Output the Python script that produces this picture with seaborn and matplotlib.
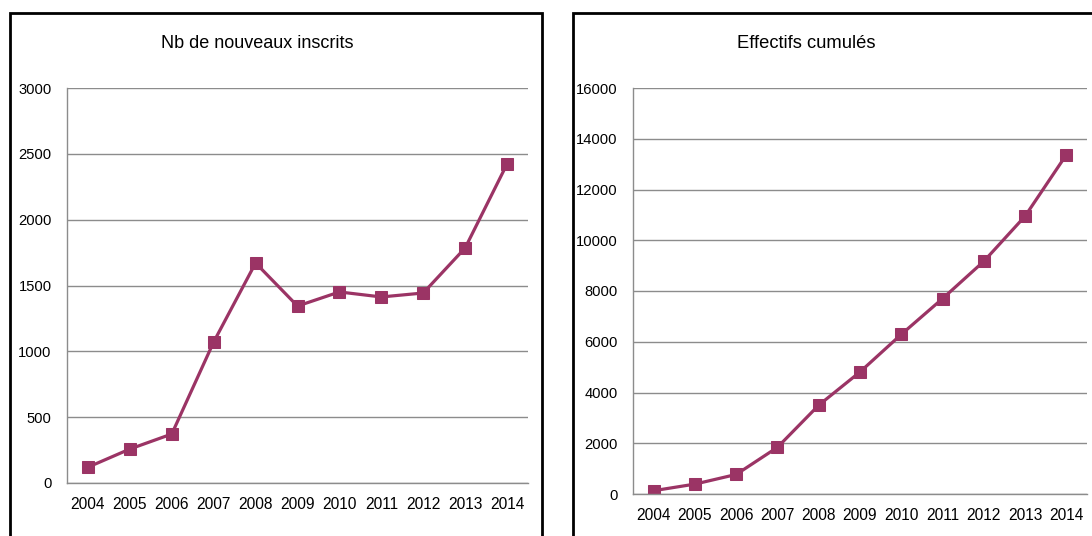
import matplotlib
matplotlib.use("Agg")
import matplotlib.pyplot as plt
from matplotlib.patches import Rectangle
import matplotlib.ticker as mticker
import seaborn as sns
import pandas as pd

# ── Data ──────────────────────────────────────────────────────────────────────
YEARS      = [2004, 2005, 2006, 2007, 2008, 2009, 2010, 2011, 2012, 2013, 2014]
NOUVEAUX   = [120, 258, 372, 1071, 1671, 1344, 1451, 1413, 1443, 1785, 2423]
CUMULES    = [130, 390, 770, 1840, 3500, 4810, 6290, 7700, 9170, 10950, 13370]
TITLES     = ["Nb de nouveaux inscrits", "Effectifs cumulés"]
YTICKS     = [list(range(0, 3001, 500)), list(range(0, 16001, 2000))]

# ── Style ─────────────────────────────────────────────────────────────────────
PLUM  = "#9B3465"
GRID  = "#8c8c8c"
sns.set_theme(style="white")
plt.rcParams["font.family"] = ["Liberation Sans", "DejaVu Sans"]

fig = plt.figure(figsize=(10.92, 5.36), dpi=100)

# panel frames (they run past the bottom / right edges as in the reference)
fig.patches.append(Rectangle((10 / 1092, -0.1), 532 / 1092, 1.1 - 13 / 536,
                             transform=fig.transFigure, fill=False,
                             lw=2, ec="black", clip_on=False))
fig.patches.append(Rectangle((573 / 1092, -0.1), 0.6, 1.1 - 13 / 536,
                             transform=fig.transFigure, fill=False,
                             lw=2, ec="black", clip_on=False))

axes = [
    fig.add_axes([67 / 1092, 53 / 536, 461 / 1092, 395 / 536]),
    fig.add_axes([633 / 1092, 42 / 536, 454 / 1092, 406 / 536]),
]
title_pos = [(257 / 1092, 1 - 43 / 536), (806 / 1092, 1 - 44 / 536)]
title_size = [13, 13.2]

for ax, values, title, yticks, tpos, tsize in zip(axes, [NOUVEAUX, CUMULES], TITLES,
                                                  YTICKS, title_pos, title_size):
    df = pd.DataFrame({"annee": YEARS, "valeur": values})
    sns.lineplot(data=df, x="annee", y="valeur", ax=ax, color=PLUM,
                 marker="s", markersize=8, markeredgecolor=PLUM,
                 linewidth=2.3)

    ax.set_xlim(YEARS[0] - 0.5, YEARS[-1] + 0.5)
    ax.set_ylim(yticks[0], yticks[-1])
    ax.set_xticks(YEARS)
    ax.set_xticklabels([str(y) for y in YEARS], fontsize=11.2, color="black")
    ax.xaxis.set_minor_locator(mticker.FixedLocator([y - 0.5 for y in YEARS] + [YEARS[-1] + 0.5]))
    ax.tick_params(axis="x", which="major", length=0, pad=10)
    ax.tick_params(axis="x", which="minor", length=5, width=1, color=GRID, direction="out")
    ax.set_yticks(yticks)
    ax.set_yticklabels([str(v) for v in yticks], fontsize=10.6, color="black")
    ax.tick_params(axis="y", length=7, width=1, color=GRID, direction="out", pad=4)
    ax.yaxis.grid(True, color=GRID, linewidth=1)
    ax.set_axisbelow(True)
    ax.set_xlabel("")
    ax.set_ylabel("")
    for side in ["top", "right"]:
        ax.spines[side].set_visible(False)
    for side in ["left", "bottom"]:
        ax.spines[side].set_color(GRID)
        ax.spines[side].set_linewidth(1)

    fig.text(tpos[0], tpos[1], title, ha="center", va="center",
             fontsize=tsize, color="black")

fig.savefig("out.png", dpi=100)
